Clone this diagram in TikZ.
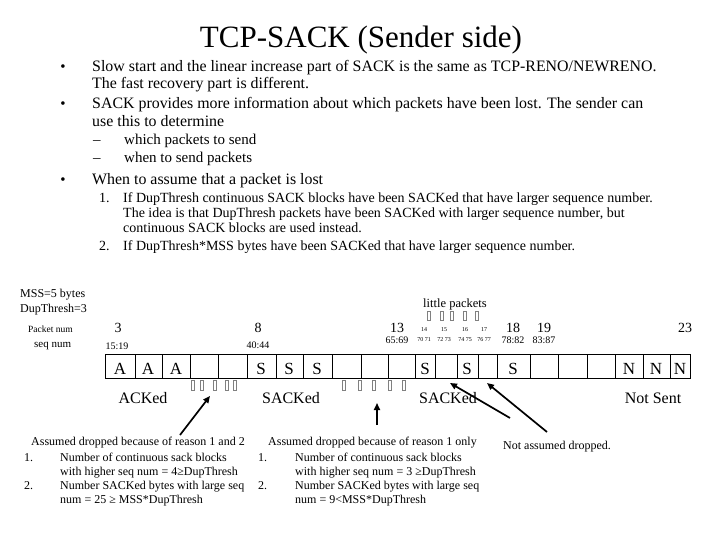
\documentclass[tikz,border=0pt]{standalone}
\usepackage{fontspec}
\setmainfont{Liberation Serif}
\usepackage{tikz}
\usetikzlibrary{arrows.meta, positioning}

\definecolor{tickgray}{RGB}{128, 128, 128}
\newcommand{\fsz}[1]{\fontsize{#1}{#1}\selectfont}

\tikzset{
  txt/.style={anchor=base west, inner sep=0pt},
  ctxt/.style={anchor=base, inner sep=0pt},
  ptr/.style={-{Triangle[length=7pt, width=6pt]}, line width=1.7pt},
  tick/.style={draw=tickgray, fill=white, line width=0.6pt}
}

\begin{document}
\begin{tikzpicture}[x=1pt, y=-1pt]
  \useasboundingbox (0,0) rectangle (720,540);

  % Title
  \node[ctxt, font=\fsz{31}] (title) at (361, 48) {TCP-SACK (Sender side)};

  % Bullets
  \foreach \y/\n in {72/b1, 109/b2, 185/b3} {
    \node[ctxt, font=\fsz{15}] (dot\n) at (63, \y) {•};
  }
  \node[txt, font=\fsz{15.9}] (l1) at (92, 72) {Slow start and the linear increase part of SACK is the same as TCP-RENO/NEWRENO.};
  \node[txt, font=\fsz{15.9}] (l2) at (92, 89) {The fast recovery part is different.};
  \node[txt, font=\fsz{15.9}] (l3) at (92, 109) {SACK provides more information about which packets have been lost. The sender can};
  \node[txt, font=\fsz{15.9}] (l4) at (92, 127) {use this to determine};
  \node[txt, font=\fsz{15}] (s1) at (93, 145) {–};
  \node[txt, font=\fsz{15}] (s1t) at (124, 145) {which packets to send};
  \node[txt, font=\fsz{15}] (s2) at (93, 163) {–};
  \node[txt, font=\fsz{15}] (s2t) at (124, 163) {when to send packets};
  \node[txt, font=\fsz{15.9}] (l5) at (92, 185) {When to assume that a packet is lost};
  \node[txt, font=\fsz{14}] (n1) at (99, 203) {1.};
  \node[txt, font=\fsz{14}] (n1a) at (123, 203) {If DupThresh continuous SACK blocks have been SACKed that have larger sequence number.};
  \node[txt, font=\fsz{14}] (n1b) at (123, 218) {The idea is that DupThresh packets have been SACKed with larger sequence number, but};
  \node[txt, font=\fsz{14}] (n1c) at (123, 233) {continuous SACK blocks are used instead.};
  \node[txt, font=\fsz{14}] (n2) at (99, 251) {2.};
  \node[txt, font=\fsz{14}] (n2a) at (123, 251) {If DupThresh*MSS bytes have been SACKed that have larger sequence number.};

  % Parameters
  \node[txt, font=\fsz{12}] (mss) at (20, 297) {MSS=5 bytes};
  \node[txt, font=\fsz{12}] (dup) at (20, 312) {DupThresh=3};
  \node[txt, font=\fsz{9.5}] (pktnum) at (28, 332) {Packet num};
  \node[txt, font=\fsz{11}] (seqnum) at (34, 347) {seq num};

  % Packet and sequence numbers
  \foreach \x/\lab in {118/3, 258/8, 397/13, 513/18, 544/19, 685/23} {
    \node[ctxt, font=\fsz{14}] (pn\lab) at (\x, 332) {\lab};
  }
  \foreach \x/\y/\lab in {117/349/15:19, 258/348/40:44, 397/343/65:69, 513/343/78:82, 544/343/83:87} {
    \node[ctxt, font=\fsz{10}] (sq\x) at (\x, \y) {\lab};
  }
  \foreach \x/\lab/\sq in {424/14/70 71, 444/15/72 73, 465/16/74 75, 484/17/76 77} {
    \node[ctxt, font=\fsz{6}] (lp\lab) at (\x, 331) {\lab};
    \node[ctxt, font=\fsz{6}] (ls\lab) at (\x, 341) {\sq};
  }

  % Little packets
  \node[ctxt, font=\fsz{12.5}] (little) at (455, 307) {little packets};
  \foreach \x in {427, 440, 450, 463, 475} {
    \draw[tick] (\x, 311) rectangle ++(3, 9);
  }

  % Send window strip
  \draw[line width=0.8pt] (105, 354) rectangle (690, 378);
  \foreach \x in {135, 162, 190, 218, 247, 276, 303, 332, 361, 388, 415, 435, 457, 478, 497, 530, 558, 587, 615, 643, 670} {
    \draw[line width=0.8pt] (\x, 354) -- (\x, 378);
  }
  \foreach \x/\l [count=\i] in {120/A, 148/A, 176/A, 261/S, 289/S, 317/S, 425/S, 467/S, 513/S, 629/N, 656/N, 680/N} {
    \node[ctxt, font=\fsz{17}] (c\i) at (\x, 374) {\l};
  }

  % Dup acks under the strip
  \foreach \x in {191, 200, 213, 225, 233, 342, 358, 372, 388, 402} {
    \draw[tick] (\x, 380) rectangle ++(3, 10);
  }

  % Region labels
  \node[ctxt, font=\fsz{16}] (acked) at (143, 403) {ACKed};
  \node[ctxt, font=\fsz{16}] (sacked1) at (291, 403) {SACKed};
  \node[ctxt, font=\fsz{16}] (sacked2) at (448, 403) {SACKed};
  \node[ctxt, font=\fsz{16}] (notsent) at (653, 403) {Not Sent};

  % Reasons
  \node[txt, font=\fsz{12}] (dropA) at (31, 445) {Assumed dropped because of reason 1 and 2};
  \node[txt, font=\fsz{12}] (dropA1) at (24, 461) {1.};
  \node[txt, font=\fsz{12}] (dropA1a) at (60, 461) {Number of continuous sack blocks};
  \node[txt, font=\fsz{12}] (dropA1b) at (60, 475) {with higher seq num = 4≥DupThresh};
  \node[txt, font=\fsz{12}] (dropA2) at (24, 489) {2.};
  \node[txt, font=\fsz{12}] (dropA2a) at (60, 489) {Number SACKed bytes with large seq};
  \node[txt, font=\fsz{12}] (dropA2b) at (60, 503) {num = 25 ≥ MSS*DupThresh};

  \node[txt, font=\fsz{12}] (dropB) at (268, 445) {Assumed dropped because of reason 1 only};
  \node[txt, font=\fsz{12}] (dropB1) at (258, 461) {1.};
  \node[txt, font=\fsz{12}] (dropB1a) at (295, 461) {Number of continuous sack blocks};
  \node[txt, font=\fsz{12}] (dropB1b) at (295, 475) {with higher seq num = 3 ≥DupThresh};
  \node[txt, font=\fsz{12}] (dropB2) at (258, 489) {2.};
  \node[txt, font=\fsz{12}] (dropB2a) at (295, 489) {Number SACKed bytes with large seq};
  \node[txt, font=\fsz{12}] (dropB2b) at (295, 503) {num = 9<MSS*DupThresh};

  \node[txt, font=\fsz{12}] (notdrop) at (503, 449) {Not assumed dropped.};

  % Arrows
  \coordinate (tailA) at (180, 435);
  \coordinate (headA) at (210, 396);
  \coordinate (tailB) at (377, 425);
  \coordinate (headB) at (377, 403);
  \coordinate (tailC) at (510, 418);
  \coordinate (headC) at (450, 383);
  \coordinate (tailD) at (547, 432);
  \coordinate (headD) at (487, 383);
  \draw[ptr] (tailA) -- (headA);
  \draw[ptr] (tailB) -- (headB);
  \draw[ptr] (tailC) -- (headC);
  \draw[ptr] (tailD) -- (headD);
\end{tikzpicture}
\end{document}
